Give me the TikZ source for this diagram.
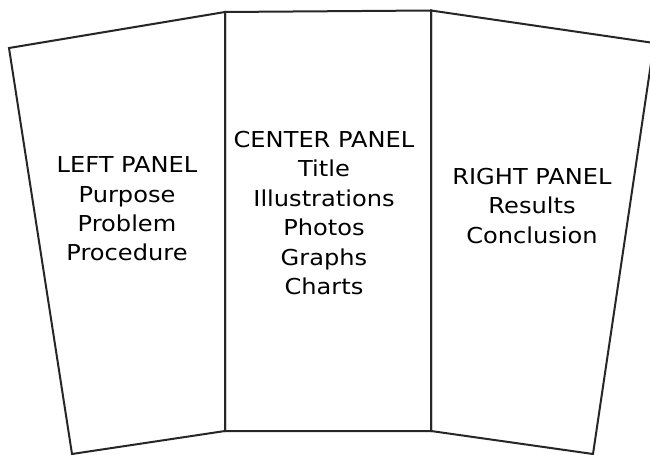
\documentclass[tikz,border=0pt]{standalone}
\usepackage{fontspec}
\setmainfont{DejaVu Sans}
\newfontfamily\panelfont[FakeStretch=1.1]{DejaVu Sans}
\usepackage{tikz}
\usetikzlibrary{positioning}

\begin{document}
\begin{tikzpicture}[x=1bp,y=-1bp,
            board/.style={draw=black!85,line width=2bp,line join=miter},
            paneltext/.style={align=center,inner sep=0pt,text=black,
            font=\panelfont\fontsize{22}{29.5}\selectfont}]
            \useasboundingbox (0,0) rectangle (650,455);
            % corners of the three boards
            \coordinate (lefttop) at (9,48);
            \coordinate (leftbot) at (72,454);
            \coordinate (midtl) at (225,12);
            \coordinate (midtr) at (431,10.5);
            \coordinate (midbl) at (225,431);
            \coordinate (midbr) at (431,431);
            \coordinate (righttop) at (654,43);
            \coordinate (rightbot) at (593,454);

            \draw[board] (lefttop) -- (midtl) -- (midbl) -- (leftbot) -- cycle;
            \draw[board] (midtl) -- (midtr) -- (midbr) -- (midbl) -- cycle;
            \draw[board] (midtr) -- (righttop) -- (rightbot) -- (midbr) -- cycle;

            \node[paneltext] (leftpanel) at (127,209) {LEFT PANEL\\Purpose\\Problem\\Procedure};
            \node[paneltext] (centerpanel) at (324,213) {CENTER PANEL\\Title\\Illustrations\\Photos\\Graphs\\Charts};
            \node[paneltext] (rightpanel) at (532,206) {RIGHT PANEL\\Results\\Conclusion};
        \end{tikzpicture}
\end{document}
